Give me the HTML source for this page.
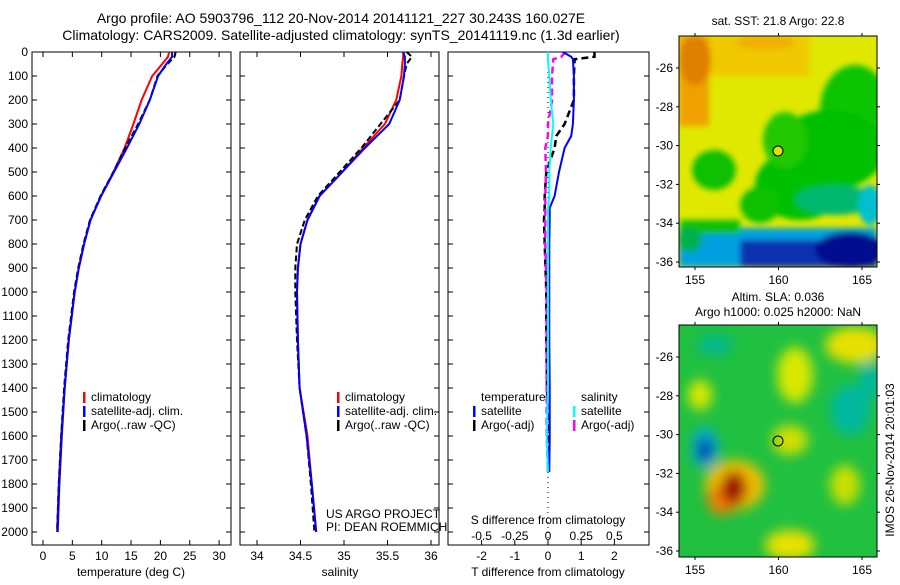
<!DOCTYPE html>
<html><head><meta charset="utf-8"><style>
body{margin:0;background:#fff;}
svg text{font-family:"Liberation Sans",sans-serif;font-size:12px;fill:#000;}
svg text.title{font-size:14px;}
</style></head><body>
<svg id="fig" width="900" height="580" viewBox="0 0 900 580" xmlns="http://www.w3.org/2000/svg">
<defs>
<filter id="blur1" x="-50%" y="-50%" width="200%" height="200%"><feGaussianBlur stdDeviation="3"/></filter>
<filter id="blur2" x="-50%" y="-50%" width="200%" height="200%"><feGaussianBlur stdDeviation="6"/></filter>
<clipPath id="clipM1"><rect x="679" y="36" width="198" height="231"/></clipPath>
<clipPath id="clipM2"><rect x="679" y="325" width="198" height="232"/></clipPath>
</defs>
<text class="title" x="341" y="23" text-anchor="middle">Argo profile: AO 5903796_112 20-Nov-2014 20141121_227 30.243S 160.027E</text>
<text class="title" x="341" y="40" text-anchor="middle">Climatology: CARS2009. Satellite-adjusted climatology: synTS_20141119.nc (1.3d earlier)</text>

<!-- Map 1: SST -->
<g clip-path="url(#clipM1)">
<rect x="679" y="36" width="198" height="231" fill="#e0e800"/>
<g filter="url(#blur1)">
<rect x="679" y="36" width="130" height="40" fill="#f0c800"/>
<rect x="679" y="36" width="30" height="90" fill="#f0a000"/>
<ellipse cx="695" cy="60" rx="16" ry="25" fill="#e08000"/>
<ellipse cx="765" cy="42" rx="30" ry="8" fill="#f0b000"/>
<ellipse cx="855" cy="110" rx="35" ry="45" fill="#10c400"/>
<ellipse cx="830" cy="150" rx="55" ry="40" fill="#00c000"/>
<ellipse cx="800" cy="185" rx="45" ry="35" fill="#00c000"/>
<ellipse cx="785" cy="140" rx="22" ry="28" fill="#20c800"/>
<ellipse cx="760" cy="205" rx="20" ry="18" fill="#10c000"/>
<ellipse cx="714" cy="170" rx="22" ry="20" fill="#10c000"/>
<ellipse cx="835" cy="200" rx="40" ry="15" fill="#00b870"/>
<ellipse cx="870" cy="205" rx="12" ry="20" fill="#00c0d0"/>
<rect x="679" y="228" width="198" height="39" fill="#00a0e0"/>
<rect x="680" y="220" width="60" height="14" fill="#10c000"/>
<rect x="740" y="240" width="137" height="27" fill="#1030b0"/>
<ellipse cx="850" cy="250" rx="35" ry="18" fill="#001090"/>
<ellipse cx="690" cy="240" rx="12" ry="12" fill="#00b050"/>
</g>
</g>
<rect x="679" y="36" width="198" height="231" fill="none" stroke="#000"/>
<circle cx="778" cy="151" r="5" fill="#e0e000" stroke="#000"/>
<text x="778" y="25" text-anchor="middle">sat. SST: 21.8 Argo: 22.8</text>

<!-- Map 2: SLA -->
<g clip-path="url(#clipM2)">
<rect x="679" y="325" width="198" height="232" fill="#20c040"/>
<g filter="url(#blur2)">
<ellipse cx="855" cy="345" rx="30" ry="18" fill="#e8e000"/>
<ellipse cx="795" cy="375" rx="18" ry="28" fill="#d8e800"/>
<ellipse cx="700" cy="395" rx="12" ry="15" fill="#d8e800"/>
<ellipse cx="715" cy="345" rx="18" ry="10" fill="#00b890"/>
<ellipse cx="850" cy="410" rx="20" ry="25" fill="#00b8a0"/>
<ellipse cx="870" cy="380" rx="10" ry="20" fill="#00b8a0"/>
<ellipse cx="790" cy="440" rx="18" ry="15" fill="#d0e000"/>
<ellipse cx="845" cy="485" rx="15" ry="20" fill="#c8e000"/>
<ellipse cx="790" cy="545" rx="25" ry="15" fill="#e8e000"/>
<ellipse cx="735" cy="485" rx="30" ry="25" fill="#f0c000"/>
<ellipse cx="722" cy="500" rx="15" ry="15" fill="#f08000"/>
<ellipse cx="734" cy="488" rx="13" ry="17" fill="#a00000"/>
<ellipse cx="705" cy="448" rx="13" ry="20" fill="#00a8e0"/>
<ellipse cx="705" cy="450" rx="7" ry="11" fill="#0020a0"/>
</g>
</g>
<rect x="679" y="325" width="198" height="232" fill="none" stroke="#000"/>
<circle cx="778" cy="441" r="5" fill="none" stroke="#000"/>
<text x="778" y="301" text-anchor="middle">Altim. SLA: 0.036</text>
<text x="778" y="316" text-anchor="middle">Argo h1000: 0.025 h2000: NaN</text>
<text transform="translate(894,460) rotate(-90)" text-anchor="middle">IMOS 26-Nov-2014 20:01:03</text>

<g id="plots"></g>
</svg>
<script>
// ---- data ----
const depths = [0,20,50,100,200,300,400,500,600,700,800,900,1000,1200,1400,1600,1800,2000];
const tempClim = [21.5,21.3,20.3,18.6,16.8,15.4,13.9,12.0,9.9,8.1,7.0,6.1,5.4,4.4,3.7,3.1,2.7,2.4];
const tempSat  = [22.0,22.0,21.0,19.6,18.2,16.4,14.3,12.1,9.9,8.1,7.0,6.1,5.4,4.4,3.7,3.2,2.8,2.5];
const tempArgo = [22.6,22.4,21.2,19.5,18.2,16.2,14.0,12.0,9.8,8.0,6.9,6.0,5.3,4.3,3.6,3.1,2.7,2.4];
const salClim = [35.68,35.68,35.67,35.66,35.60,35.47,35.22,34.98,34.72,34.58,34.50,34.47,34.46,34.47,34.49,34.58,34.63,34.68];
const salSat  = [35.68,35.70,35.70,35.69,35.64,35.52,35.24,34.98,34.72,34.58,34.50,34.47,34.46,34.47,34.49,34.57,34.63,34.68];
const salArgo = [35.72,35.78,35.72,35.69,35.64,35.42,35.20,34.95,34.70,34.55,34.46,34.44,34.44,34.46,34.49,34.57,34.62,34.66];
const diffDepths = [0,20,30,100,200,300,350,400,500,600,650,700,800,1000,1200,1400,1600,1750];
const tDiffSat  = [0.45,0.7,0.75,0.78,0.78,0.75,0.7,0.5,0.33,0.2,0.05,0.05,0.04,0.04,0.04,0.05,0.05,0.04];
const tDiffArgo = [1.4,1.4,0.8,0.78,0.78,0.5,0.25,0.2,-0.05,-0.1,-0.1,-0.12,-0.1,-0.05,-0.05,-0.03,0.02,0.0];
const sDiffSat  = [0.0,0.0,0.0,0.01,0.02,0.04,0.03,0.02,0.01,0.01,0.0,0.0,0.0,0.0,0.0,0.0,-0.01,0.0];
const sDiffArgo = [0.13,0.1,0.04,0.03,0.03,0.0,0.0,-0.02,-0.015,-0.02,-0.02,-0.02,-0.02,-0.01,-0.01,-0.01,-0.01,0.0];
const depthTicks = [0,100,200,300,400,500,600,700,800,900,1000,1100,1200,1300,1400,1500,1600,1700,1800,1900,2000];
const tempTicks = [0,5,10,15,20,25,30];
const salTicks = [34,34.5,35,35.5,36];
const tDiffTicks = [-2,-1,0,1,2];
const sDiffTicks = [-0.5,-0.25,0,0.25,0.5];
const lonTicks = [155,160,165];
const latTicks = [-26,-28,-30,-32,-34,-36];

// ---- scales ----
const yD = d => 52 + d*0.24;
const xT = t => 43 + t*5.87;
const xS = s => 257 + (s-34)*87;
const xTD = v => 548 + v*33.2;
const xSD = v => 548 + v*132.8;
const xLon = l => 695 + (l-155)*16.7;
const yLat1 = l => 68 + (-26-l)*19.4;
const yLat2 = l => 357 + (-26-l)*19.4;

const NS='http://www.w3.org/2000/svg';
const root=document.getElementById('plots');
function mk(tag,attrs,parent){const e=document.createElementNS(NS,tag);for(const k in attrs)e.setAttribute(k,attrs[k]);(parent||root).appendChild(e);return e;}
function txt(x,y,s,anchor,parent){const e=mk('text',{x:x,y:y,'text-anchor':anchor||'start'},parent);e.textContent=s;return e;}

function panel(name,x0,x1){
  const g=mk('g',{});
  
  
  const r=mk('rect',{x:x0,y:52,width:x1-x0,height:493,fill:'none',stroke:'#000'},g);
  
  
  depthTicks.forEach(d=>{
    mk('line',{x1:x0,x2:x0+5,y1:yD(d),y2:yD(d),stroke:'#000'},g);
    mk('line',{x1:x1,x2:x1-5,y1:yD(d),y2:yD(d),stroke:'#000'},g);
  });
  return g;
}
function line(g,xs,ys,xf,color,w,dash,name){
  const pts=xs.map((v,i)=>xf(v).toFixed(1)+','+yD(ys[i]).toFixed(1)).join(' ');
  const p=mk('polyline',{points:pts,fill:'none',stroke:color,'stroke-width':w},g);
  if(dash)p.setAttribute('stroke-dasharray',dash);
  
  
}
function xticks(g,ticks,xf,x0,x1,ylab,top){
  ticks.forEach(t=>{
    const x=xf(t);
    mk('line',{x1:x,x2:x,y1:545,y2:540,stroke:'#000'},g);
    if(top) mk('line',{x1:x,x2:x,y1:52,y2:57,stroke:'#000'},g);
    const lab=txt(x,ylab,String(t),'middle',g);
    
    
  });
}
function legendEntry(g,x,y,color,label){
  mk('rect',{x:x,y:y-9,width:2.5,height:11,fill:color},g);
  const t=txt(x+8,y,label,'start',g);
  
  
}

depthTicks.forEach(d=>{
  const t=txt(28,yD(d)+4,String(d),'end');
  
  
});

// Panel 1 temperature
const p1=panel('temperature-panel',32,231);
xticks(p1,tempTicks,xT,32,231,560,true);
line(p1,tempClim,depths,xT,'#f00',2,null,'temp-climatology-line');
line(p1,tempArgo,depths,xT,'#000',2,'6,3','temp-argo-line');
line(p1,tempSat,depths,xT,'#00f',2,null,'temp-satellite-line');
const xl1=txt(131,576,'temperature (deg C)','middle',p1);


legendEntry(p1,83,401,'#f00','climatology');
legendEntry(p1,83,415,'#00f','satellite-adj. clim.');
legendEntry(p1,83,429,'#000','Argo(..raw -QC)');

// Panel 2 salinity
const p2=panel('salinity-panel',240,439);
xticks(p2,salTicks,xS,240,439,560,true);
line(p2,salClim,depths,xS,'#f00',2,null,'sal-climatology-line');
line(p2,salArgo,depths,xS,'#000',2,'6,3','sal-argo-line');
line(p2,salSat,depths,xS,'#00f',2,null,'sal-satellite-line');
const xl2=txt(340,576,'salinity','middle',p2);


legendEntry(p2,337,401,'#f00','climatology');
legendEntry(p2,337,415,'#00f','satellite-adj. clim.');
legendEntry(p2,337,429,'#000','Argo(..raw -QC)');
const c1=txt(326,518,'US ARGO PROJECT','start',p2);


const c2=txt(326,531,'PI: DEAN ROEMMICH','start',p2);



// Panel 3 differences
const p3=panel('difference-panel',448,649);
xticks(p3,tDiffTicks,xTD,448,649,560,false);
sDiffTicks.forEach(s=>{
  const t=txt(xSD(s),540,String(s),'middle',p3);
  
  
});
mk('line',{x1:xTD(0),x2:xTD(0),y1:52,y2:yD(2050),stroke:'#000','stroke-dasharray':'1,4'},p3);
line(p3,tDiffArgo,diffDepths,xTD,'#000',2.5,'7,4','tdiff-argo-line');
line(p3,sDiffArgo,diffDepths,xSD,'#f0f',2.5,'7,4','sdiff-argo-line');
line(p3,tDiffSat,diffDepths,xTD,'#00f',2,null,'tdiff-satellite-line');
line(p3,sDiffSat,diffDepths,xSD,'#0ff',2,null,'sdiff-satellite-line');
const s3=txt(548,524,'S difference from climatology','middle',p3);


const t3=txt(548,576,'T difference from climatology','middle',p3);


const lt=txt(481,401,'temperature','start',p3);


const ls=txt(581,401,'salinity','start',p3);


legendEntry(p3,473,415,'#00f','satellite');
legendEntry(p3,473,429,'#000','Argo(-adj)');
legendEntry(p3,573,415,'#0ff','satellite');
legendEntry(p3,573,429,'#f0f','Argo(-adj)');

// Map axes
function mapAxes(y0,y1,ylat,name){
  const g=mk('g',{});
  
  
  lonTicks.forEach(l=>{
    const x=xLon(l);
    mk('line',{x1:x,x2:x,y1:y0-3,y2:y0,stroke:'#000'},g);
    mk('line',{x1:x,x2:x,y1:y1,y2:y1+3,stroke:'#000'},g);
    const t=txt(x,y1+17,String(l),'middle',g);
    
    
  });
  latTicks.forEach(l=>{
    const y=ylat(l);
    mk('line',{x1:676,x2:679,y1:y,y2:y,stroke:'#000'},g);
    mk('line',{x1:877,x2:880,y1:y,y2:y,stroke:'#000'},g);
    const t=txt(673,y+4,String(l),'end',g);
    
    
  });
}
mapAxes(36,267,yLat1,'sst-map-axes');
mapAxes(325,557,yLat2,'sla-map-axes');
</script>
</body></html>
